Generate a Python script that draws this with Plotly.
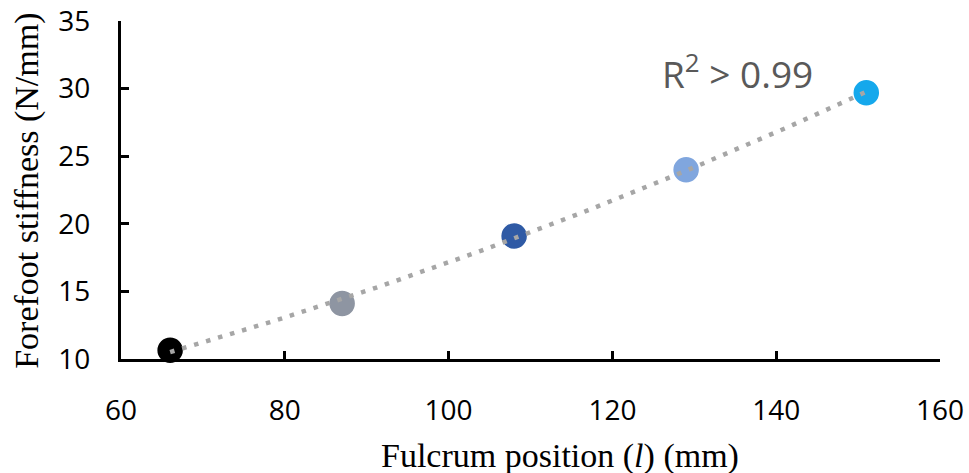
import numpy as np
import plotly.graph_objects as go

# Fulcrum position (mm) vs forefoot stiffness (N/mm)
fulcrum_mm = [66, 87, 108, 129, 151]
stiffness = [10.65, 14.1, 19.1, 24.0, 29.7]
point_colors = ["#000000", "#8E95A2", "#2F5AA5", "#80A6DE", "#15A8EC"]

x_ticks = [60, 80, 100, 120, 140, 160]
y_ticks = [10, 15, 20, 25, 30, 35]

# Second-order polynomial trendline across the measured range
coef = np.polyfit(fulcrum_mm, stiffness, 2)
xs = np.linspace(min(fulcrum_mm), max(fulcrum_mm), 200)
ys = np.polyval(coef, xs)

fig = go.Figure()
fig.add_trace(go.Scatter(
    x=fulcrum_mm, y=stiffness, mode="markers",
    marker=dict(size=27, color=point_colors, line=dict(color="white", width=1.5)),
    showlegend=False, cliponaxis=False,
))
fig.add_trace(go.Scatter(
    x=xs, y=ys, mode="lines",
    line=dict(color="#A6A6A6", width=4.5, dash="4.5px,8px"),
    showlegend=False, cliponaxis=False,
))

fig.add_annotation(
    x=135.3, y=31.25, xref="x", yref="y",
    text="R<sup>2</sup> > 0.99", showarrow=False,
    font=dict(family="Open Sans", size=37, color="#595959"),
)

title_font = dict(family="Liberation Serif", size=34, color="black")
fig.add_annotation(
    x=0.536, y=-0.287, xref="paper", yref="paper", xanchor="center", yanchor="middle",
    text="Fulcrum position (<i>l</i>) (mm)", showarrow=False, font=title_font,
)
fig.add_annotation(
    x=-0.115, y=0.497, xref="paper", yref="paper", xanchor="center", yanchor="middle",
    textangle=-90,
    text="Forefoot stiffness (N/mm)", showarrow=False, font=title_font,
)

axis_common = dict(
    showline=True, linecolor="black", linewidth=3,
    ticks="inside", ticklen=8, tickwidth=3, tickcolor="black",
    showgrid=False, zeroline=False, automargin=False,
    tickfont=dict(family="Open Sans", size=28, color="black"),
)

fig.update_xaxes(range=[60, 160], tickvals=x_ticks, ticklabelstandoff=24, **axis_common)
fig.update_yaxes(range=[10, 35], tickvals=y_ticks, ticklabelstandoff=22, **axis_common)

fig.update_layout(
    width=969, height=473,
    margin=dict(l=121, r=29, t=21, b=114),
    plot_bgcolor="white", paper_bgcolor="white",
)

fig.write_html("out.html")
